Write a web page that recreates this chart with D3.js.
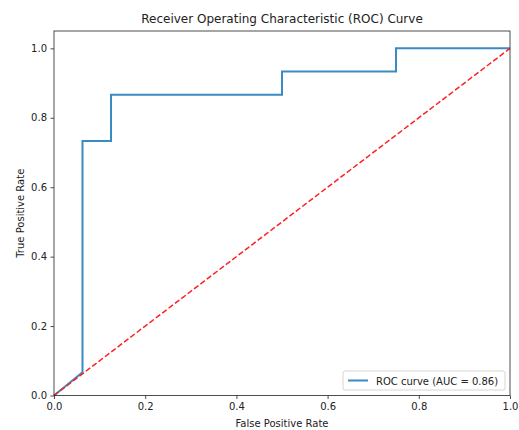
<!DOCTYPE html>
<html>
<head>
<meta charset="utf-8">
<script src="https://cdn.jsdelivr.net/npm/d3@7"></script>
<style>
  body { margin: 0; background: #fff; }
  svg { font-family: "DejaVu Sans", sans-serif; }
</style>
</head>
<body>
<svg id="chart" width="519" height="430"></svg>
<script>
// ROC points (16 negatives, 15 positives)
var fpr = [0, 0.0625, 0.0625, 0.125, 0.125, 0.5, 0.5, 0.75, 0.75, 1];
var tpr = [0, 0.0667, 0.7333, 0.7333, 0.8667, 0.8667, 0.9333, 0.9333, 1, 1];
var diagX = [0, 1];
var diagY = [0, 1];
var xTicks = [0, 0.2, 0.4, 0.6, 0.8, 1.0];
var yTicks = [0, 0.2, 0.4, 0.6, 0.8, 1.0];
var aucLabel = "ROC curve (AUC = 0.86)";

var svg = d3.select("#chart");
// plot box (note: "top" is reserved on window, so use other names)
var pLeft = 54, pRight = 510, pTop = 31, pBottom = 395.5;

var x = d3.scaleLinear().domain([0, 1]).range([pLeft, pRight]);
var y = d3.scaleLinear().domain([0, 1.05]).range([pBottom, pTop]);

// axes
var xAxis = svg.append("g")
    .attr("transform", "translate(0," + pBottom + ")")
    .call(d3.axisBottom(x).tickValues(xTicks).tickFormat(d3.format(".1f")).tickSize(3.5).tickPadding(3.5));
var yAxis = svg.append("g")
    .attr("transform", "translate(" + pLeft + ",0)")
    .call(d3.axisLeft(y).tickValues(yTicks).tickFormat(d3.format(".1f")).tickSize(3.5).tickPadding(3.5));
[xAxis, yAxis].forEach(function(a) {
    a.select(".domain").remove();
    a.selectAll("text").attr("font-size", 10).attr("fill", "#222").attr("font-family", "DejaVu Sans, sans-serif");
    a.selectAll("line").attr("stroke", "#222").attr("stroke-width", 0.8);
});

// ROC step line
var pts = fpr.map(function(d, i) { return [d, tpr[i]]; });
var line = d3.line().x(function(d) { return x(d[0]); }).y(function(d) { return y(d[1]); });

svg.append("path")
    .datum(pts)
    .attr("d", line)
    .attr("fill", "none")
    .attr("stroke", "#3b8bc2")
    .attr("stroke-width", 2);

// chance diagonal
svg.append("path")
    .datum(diagX.map(function(d, i) { return [d, diagY[i]]; }))
    .attr("d", line)
    .attr("fill", "none")
    .attr("stroke", "#ff2020")
    .attr("stroke-width", 1.5)
    .attr("stroke-dasharray", "5.5,2.5");

// frame
svg.append("rect")
    .attr("x", pLeft).attr("y", pTop)
    .attr("width", pRight - pLeft).attr("height", pBottom - pTop)
    .attr("fill", "none").attr("stroke", "#222").attr("stroke-width", 0.8);

// titles
svg.append("text")
    .attr("x", (pLeft + pRight) / 2).attr("y", 23)
    .attr("text-anchor", "middle").attr("font-size", 12).attr("fill", "#222")
    .text("Receiver Operating Characteristic (ROC) Curve");
svg.append("text")
    .attr("x", (pLeft + pRight) / 2).attr("y", 426.5)
    .attr("text-anchor", "middle").attr("font-size", 10).attr("fill", "#222")
    .text("False Positive Rate");
svg.append("text")
    .attr("transform", "translate(23.5," + ((pTop + pBottom) / 2) + ") rotate(-90)")
    .attr("text-anchor", "middle").attr("font-size", 10).attr("fill", "#222")
    .text("True Positive Rate");

// legend
var lg = svg.append("g").attr("transform", "translate(343,371)");
lg.append("rect")
    .attr("width", 162).attr("height", 19).attr("rx", 2)
    .attr("fill", "#fff").attr("fill-opacity", 0.8)
    .attr("stroke", "#ccc").attr("stroke-width", 0.8);
lg.append("line")
    .attr("x1", 5).attr("x2", 25).attr("y1", 9.5).attr("y2", 9.5)
    .attr("stroke", "#3b8bc2").attr("stroke-width", 2);
lg.append("text")
    .attr("x", 33).attr("y", 13.5)
    .attr("font-size", 10).attr("fill", "#222")
    .text(aucLabel);
</script>
</body>
</html>
